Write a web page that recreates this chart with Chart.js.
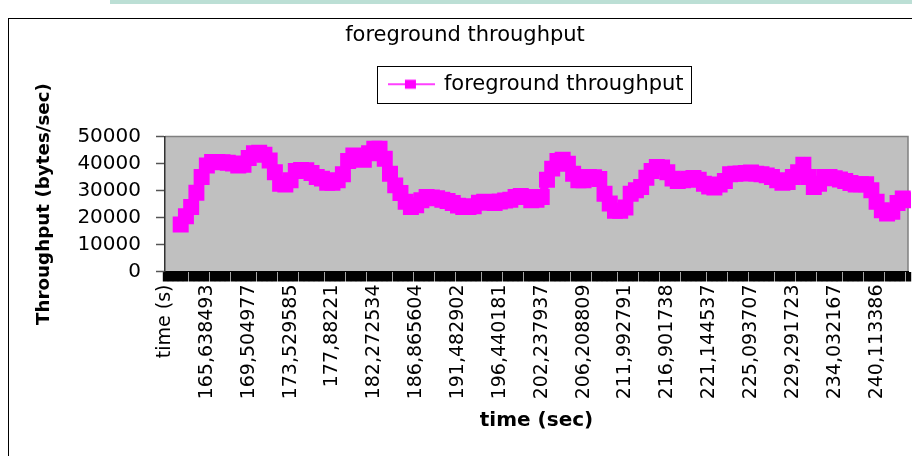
<!DOCTYPE html>
<html>
<head>
<meta charset="utf-8">
<title>foreground throughput</title>
<script src="https://cdn.jsdelivr.net/npm/chart.js@4/dist/chart.umd.min.js"></script>
<style>
    html, body { margin: 0; padding: 0; background: #fff; }
    body { width: 912px; height: 456px; position: relative; overflow: hidden; }
    #topStrip { position: absolute; left: 110px; top: 0; width: 802px; height: 4px; background: #bcdfd5; }
    #frame { position: absolute; left: 8px; top: 18px; width: 903px; height: 437px; border-left: 1px solid #000; border-top: 1px solid #000; }
    #frame canvas { display: block; }
</style>
</head>
<body>
<div id="topStrip"></div>
<div id="frame"><canvas id="grafik" width="903" height="437"></canvas></div>
<script>
// category labels shown on the time axis, one every pointsPerLabel samples
const tickLabels = [
    'time (s)', '165,638493', '169,504977', '173,529585', '177,88221', '182,272534',
    '186,865604', '191,482902', '196,440181', '202,237937', '206,208809', '211,992791',
    '216,901738', '221,144537', '225,093707', '229,291723', '234,032167', '240,113386'
]
const pointsPerLabel = 8
const categoryCount = 143
const leadingBlanks = 3

// foreground throughput (bytes/sec)
const throughput = [
    17400, 20500, 23900, 29200, 35000, 39300, 40600, 40600, 40500, 40300,
    40000, 39300, 39500, 42000, 43800, 44000, 43200, 41100, 36800, 32500,
    32200, 33800, 37200, 37600, 37500, 36500, 35000, 34400, 32900, 32900,
    33800, 36000, 40900, 43000, 42000, 41400, 43800, 45500, 45500, 41800,
    36200, 31900, 29100, 25800, 23900, 24500, 26400, 27600, 27400, 27100,
    26600, 26100, 25400, 24400, 23900, 23900, 24200, 25500, 25800, 25700,
    25400, 25900, 26300, 26600, 27600, 28000, 27600, 26400, 26600, 27600,
    34000, 38100, 40900, 41400, 39900, 36200, 33800, 33800, 35000, 34900,
    34300, 28800, 25200, 22500, 22500, 23700, 28800, 30100, 31300, 34700,
    37200, 38700, 38500, 36800, 34400, 33500, 33800, 34400, 34600, 34000,
    32500, 31500, 31100, 32200, 33500, 36000, 36200, 36300, 36500, 36700,
    36200, 36000, 35600, 35000, 33800, 32900, 33100, 35000, 36800, 39500,
    35000, 31300, 32500, 35000, 35000, 34500, 34100, 33500, 32800, 32200,
    32300, 32300, 30100, 25800, 22700, 21500, 22100, 25400, 27000, 26400
]

const yTicks = [0, 10000, 20000, 30000, 40000, 50000]

const categories = []
for (let i = 0; i < categoryCount; i++) {
    const label = i % pointsPerLabel === 0 ? tickLabels[i / pointsPerLabel] : undefined
    categories.push(label === undefined ? '' : label)
}
const series = new Array(leadingBlanks).fill(null).concat(throughput)

Chart.defaults.font.family = "'DejaVu Sans', sans-serif"
Chart.defaults.color = '#000'

// legend symbol: thin line with a square marker, like the spreadsheet legend
const legendMark = document.createElement('canvas')
legendMark.width = 47
legendMark.height = 12
const lc = legendMark.getContext('2d')
lc.strokeStyle = '#ff00ff'
lc.lineWidth = 1.5
lc.beginPath()
lc.moveTo(0, 6)
lc.lineTo(47, 6)
lc.stroke()
lc.fillStyle = '#ff00ff'
lc.fillRect(17, 1.5, 11, 9)

const plotBackground = {
    id: 'plotBackground',
    beforeDraw(chart) {
        const { ctx, chartArea: a } = chart
        ctx.save()
        ctx.fillStyle = '#c0c0c0'
        ctx.fillRect(a.left, a.top, a.right - a.left, a.bottom - a.top)
        ctx.strokeStyle = '#808080'
        ctx.lineWidth = 1.5
        ctx.beginPath()
        ctx.moveTo(a.left, a.top)
        ctx.lineTo(a.right, a.top)
        ctx.lineTo(a.right, a.bottom)
        ctx.stroke()
        ctx.restore()
    }
}

const legendFrame = {
    id: 'legendFrame',
    afterDraw(chart) {
        const hb = chart.legend.legendHitBoxes[0]
        if (!hb) return
        const ctx = chart.ctx
        ctx.save()
        ctx.strokeStyle = '#000'
        ctx.lineWidth = 1
        ctx.strokeRect(Math.round(hb.left - 12) + 0.5, Math.round(hb.top + hb.height / 2 - 18.5) + 0.5, Math.round(hb.width + 19.5), 37)
        ctx.restore()
    }
}

new Chart(document.getElementById('grafik'), {
    type: 'line',
    data: {
        labels: categories,
        datasets: [{
            label: 'foreground throughput',
            data: series,
            borderColor: '#ff00ff',
            backgroundColor: '#ff00ff',
            borderWidth: 8,
            tension: 0,
            pointStyle: 'rect',
            pointRadius: 11.3,
            pointHoverRadius: 11.3,
            pointBorderWidth: 0,
            pointBackgroundColor: '#ff00ff',
            clip: 3
        }]
    },
    options: {
        responsive: false,
        animation: false,
        events: [],
        layout: { autoPadding: false, padding: { left: 13, right: 4, top: 0, bottom: 23 } },
        plugins: {
            title: {
                display: true,
                text: 'foreground throughput',
                color: '#000',
                font: { size: 21, weight: 'normal' },
                padding: { top: 4, bottom: 6 }
            },
            subtitle: {
                display: true,
                text: '',
                weight: 500,
                font: { size: 10 },
                padding: { top: 0, bottom: 19.8 }
            },
            legend: {
                fullSize: false,
                labels: {
                    usePointStyle: true,
                    pointStyle: legendMark,
                    pointStyleWidth: 44,
                    padding: 19.5,
                    color: '#000',
                    font: { size: 21 }
                }
            },
            tooltip: { enabled: false }
        },
        scales: {
            x: {
                type: 'category',
                offset: false,
                grid: { drawOnChartArea: false, drawTicks: true, tickLength: 10, tickWidth: 5.4, tickColor: '#000' },
                border: { display: true, color: '#000', width: 1 },
                ticks: { autoSkip: false, minRotation: 90, maxRotation: 90, padding: 3, color: '#000', font: { size: 19 } },
                title: {
                    display: true,
                    text: 'time (sec)',
                    color: '#000',
                    font: { size: 20, weight: 'bold' },
                    padding: { top: 0, bottom: 0 }
                },
                afterFit(scale) {
                    scale.height = 161.5
                    scale.paddingLeft = 0
                    scale.paddingRight = 0
                }
            },
            y: {
                min: yTicks[0],
                max: yTicks[yTicks.length - 1],
                afterBuildTicks(scale) { scale.ticks = yTicks.map(v => ({ value: v })) },
                ticks: { padding: 15, color: '#000', font: { size: 20 }, callback: v => String(v) },
                grid: { drawOnChartArea: false, tickLength: 9, tickWidth: 1.5, tickColor: '#555' },
                border: { display: true, color: '#333', width: 1.5 },
                title: {
                    display: true,
                    text: 'Throughput (bytes/sec)',
                    color: '#000',
                    font: { size: 18.3, weight: 'bold' },
                    padding: { top: 11, bottom: 0 }
                },
                afterFit(scale) { scale.width = 143 }
            }
        }
    },
    plugins: [plotBackground, legendFrame]
})
</script>
</body>
</html>
